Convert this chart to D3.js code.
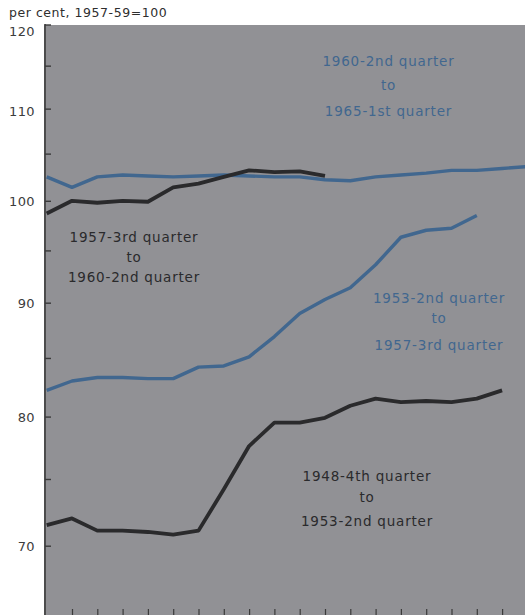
<!DOCTYPE html>
<html><head><meta charset="utf-8">
<script src="https://cdn.jsdelivr.net/npm/d3@7"></script>
<style>
html,body{margin:0;padding:0;background:#fff;}
svg{display:block;}
text{font-family:"DejaVu Sans",sans-serif;}
</style></head>
<body>
<svg id="chart" width="525" height="615"></svg>
<script>
// Index values, per cent, 1957-59=100 (quarterly, each period starts at quarter 0)
const series1948 = [71.5, 72.0, 71.1, 71.1, 71.0, 70.8, 71.1, 74.2, 77.6, 79.5, 79.5, 79.9, 80.9, 81.5, 81.2, 81.3, 81.2, 81.5, 82.2];
const series1953 = [82.2, 83.0, 83.3, 83.3, 83.2, 83.2, 84.2, 84.3, 85.1, 86.9, 89.0, 90.3, 91.4, 93.6, 96.3, 97.0, 97.2, 98.5];
const series1957 = [98.7, 100.0, 99.8, 100.0, 99.9, 101.4, 101.8, 102.5, 103.2, 103.0, 103.1, 102.6];
const series1960 = [102.5, 101.4, 102.5, 102.7, 102.6, 102.5, 102.6, 102.7, 102.6, 102.5, 102.5, 102.2, 102.1, 102.5, 102.7, 102.9, 103.2, 103.2, 103.4, 103.6];

const seriesLabels = [
  ["1948-4th quarter", "to", "1953-2nd quarter"],
  ["1953-2nd quarter", "to", "1957-3rd quarter"],
  ["1957-3rd quarter", "to", "1960-2nd quarter"],
  ["1960-2nd quarter", "to", "1965-1st quarter"]
];
const yTickValues = [70, 75, 80, 85, 90, 95, 100, 105, 110, 115, 120];
const yLabelValues = [70, 80, 90, 100, 110, 120];
const xTickValues = d3.range(1, 19);
const unitLabel = "per cent, 1957-59=100";

const svg = d3.select("#chart");
const plotLeft = 44, plotTop = 25, plotBottom = 615, plotRight = 525;

const x = d3.scaleLinear().domain([0, 19]).range([46.7, 527.4]);
const y = d3.scaleLog().domain([70, 120]).range([545.7, 24.5]);

const BG = "#919195", BLUE = "#41678f", DARK = "#2a2a2c";

svg.append("rect").attr("x", plotLeft).attr("y", plotTop)
  .attr("width", plotRight - plotLeft).attr("height", plotBottom - plotTop)
  .attr("fill", BG);

// left axis line
svg.append("line").attr("x1", plotLeft + 1).attr("x2", plotLeft + 1)
  .attr("y1", plotTop - 1).attr("y2", plotBottom)
  .attr("stroke", "#3a3a3a").attr("stroke-width", 1.6);

// Y axis ticks (inward) and labels
const yAxis = d3.axisLeft(y).tickValues(yTickValues).tickSize(-6).tickPadding(0)
  .tickFormat(() => "");
const gy = svg.append("g").attr("transform", `translate(${plotLeft + 1},0)`).call(yAxis);
gy.select(".domain").remove();
gy.selectAll(".tick line").attr("stroke", "#3a3a3a").attr("stroke-width", 1.4);

svg.append("g").selectAll("text").data(yLabelValues).join("text")
  .attr("x", 35).attr("y", d => d === 120 ? y(d) + 6.5 : (d === 110 ? y(d) + 2.5 : y(d) + 1))
  .attr("dy", "0.36em")
  .attr("text-anchor", "end").attr("font-size", 13).attr("fill", "#3c3c3c")
  .attr("letter-spacing", 0.4)
  .text(d => d);

// X axis ticks (inward from bottom)
const xAxis = d3.axisBottom(x).tickValues(xTickValues).tickSize(-6).tickFormat(() => "");
const gx = svg.append("g").attr("transform", `translate(0,${plotBottom})`).call(xAxis);
gx.select(".domain").remove();
gx.selectAll(".tick line").attr("stroke", "#3a3a3a").attr("stroke-width", 1.2);

// unit label
svg.append("text").attr("x", 9).attr("y", 16.5).attr("font-size", 12.5)
  .attr("fill", "#2e2e2e").attr("letter-spacing", 0.55).text(unitLabel);

// lines
const line = d3.line().x((d, i) => x(i)).y(d => y(d)).curve(d3.curveLinear);
const lineDefs = [
  {data: series1960, color: BLUE, w: 3.4},
  {data: series1957, color: DARK, w: 3.8},
  {data: series1953, color: BLUE, w: 3.4},
  {data: series1948, color: DARK, w: 3.8}
];
svg.append("g").selectAll("path").data(lineDefs).join("path")
  .attr("d", d => line(d.data)).attr("fill", "none")
  .attr("stroke", d => d.color).attr("stroke-width", d => d.w)
  .attr("stroke-linejoin", "round").attr("stroke-linecap", "butt");

// annotation labels
const labelDefs = [
  {lines: seriesLabels[0], cx: 367, ys: [476, 497.5, 521], color: DARK},
  {lines: seriesLabels[1], cx: 439, ys: [298, 318.5, 345], color: BLUE},
  {lines: seriesLabels[2], cx: 134, ys: [237, 257, 277.5], color: DARK},
  {lines: seriesLabels[3], cx: 388.5, ys: [61.5, 85, 111], color: BLUE}
];
labelDefs.forEach(l => {
  l.lines.forEach((t, i) => {
    svg.append("text").attr("x", l.cx).attr("y", l.ys[i]).attr("dy", "0.36em")
      .attr("text-anchor", "middle").attr("font-size", 13.5)
      .attr("letter-spacing", 0.8).attr("fill", l.color).text(t);
  });
});
</script>
</body></html>
